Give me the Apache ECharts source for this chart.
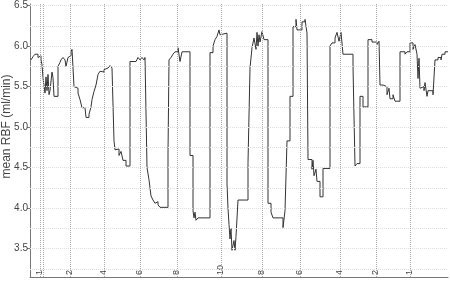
<!DOCTYPE html>
<html>
<head>
<meta charset="utf-8">
<script src="https://cdn.jsdelivr.net/npm/echarts@6/dist/echarts.min.js"></script>
<style>
  html, body { margin: 0; padding: 0; background: #fff; }
  #chart { width: 450px; height: 282px; }
</style>
</head>
<body>
<div id="chart"></div>
<script>
'use strict';

// time (arbitrary units along the recording) and mean RBF values
var times = [1, 3, 5, 8, 10, 11, 12, 13, 15, 16, 17, 18, 19, 20, 22, 23, 24, 28, 30, 31,
    33, 35, 36, 38, 40, 41, 42, 44, 46, 48, 50, 52, 55, 56, 59, 61, 62, 64, 66, 68,
    70, 72, 74, 76, 78, 80, 82, 83, 84, 85, 87, 89, 91, 93, 96, 100, 106, 108, 110, 112,
    114, 115, 117, 119, 120, 121, 123, 125, 127, 128, 130, 138, 139, 141, 143, 145, 148, 150, 152, 155,
    160, 163, 164, 165, 166, 168, 180, 183, 185, 187, 189, 190, 192, 197, 198, 199, 200, 201, 202, 204,
    205, 206, 208, 218, 220, 222, 224, 226, 227, 228, 229, 230, 232, 234, 238, 241, 243, 253, 255, 257,
    260, 263, 266, 267, 272, 275, 277, 278, 282, 283, 284, 286, 287, 290, 293, 300, 302, 305, 307, 309,
    311, 313, 323, 325, 327, 330, 333, 338, 342, 347, 349, 350, 353, 357, 359, 360, 363, 365, 370, 375,
    377, 380, 383, 385, 387, 388, 389, 390, 392, 394, 395, 397, 398, 403, 405, 408, 411, 412, 415, 418];

var rbf = [5.83, 5.87, 5.90, 5.86, 5.88, 5.83, 5.77, 5.61, 5.42, 5.62, 5.45, 5.65, 5.40, 5.45, 5.68, 5.61, 5.38, 5.75, 5.80, 5.83,
    5.86, 5.83, 5.75, 5.86, 5.88, 5.93, 5.96, 5.50, 5.48, 5.42, 5.34, 5.24, 5.22, 5.12, 5.16, 5.25, 5.34, 5.44, 5.52, 5.65,
    5.69, 5.68, 5.71, 5.73, 5.71, 5.76, 5.73, 5.71, 4.83, 4.72, 4.73, 4.65, 4.70, 4.59, 4.52, 5.81, 5.83, 5.86, 5.83, 5.86,
    5.83, 5.86, 4.50, 4.35, 4.25, 4.15, 4.10, 4.06, 4.08, 4.04, 4.01, 4.68, 5.83, 5.86, 5.90, 5.93, 5.98, 5.81, 5.93, 5.93,
    4.65, 3.97, 3.88, 3.95, 3.85, 3.88, 5.92, 6.00, 6.08, 6.12, 6.20, 6.14, 6.16, 4.30, 4.00, 3.80, 3.62, 3.75, 3.48, 3.60,
    3.48, 3.65, 4.10, 4.56, 5.73, 5.98, 6.10, 5.96, 6.17, 6.00, 6.14, 6.05, 6.18, 6.08, 4.06, 3.95, 3.88, 3.76, 3.97, 4.83,
    5.38, 6.24, 6.33, 6.20, 6.30, 6.33, 6.16, 4.60, 4.48, 4.59, 4.40, 4.48, 4.33, 4.14, 4.49, 6.00, 6.04, 6.10, 6.17, 6.06,
    6.17, 5.90, 5.75, 4.52, 4.55, 5.38, 5.25, 6.08, 6.05, 6.02, 6.06, 5.52, 5.50, 5.40, 5.48, 5.35, 5.40, 5.32, 5.93, 5.90,
    5.93, 6.04, 5.96, 6.02, 5.90, 5.60, 5.85, 5.48, 5.50, 5.45, 5.55, 5.38, 5.45, 5.40, 5.83, 5.86, 5.83, 5.90, 5.93, 5.93];

// dose markers along the time axis and their labels
var markerTimes = [10, 40, 74, 110, 147, 191, 232, 270, 310, 346, 380];
var markerLabels = ['1', '2', '4', '6', '8', '10', '8', '6', '4', '2', '1'];
var extraMarkers = [13];

var yTicks = [3.5, 4.0, 4.5, 5.0, 5.5, 6.0, 6.5];
var yGrid = [3.25, 3.5, 3.75, 4.0, 4.25, 4.5, 4.75, 5.0, 5.25, 5.5, 5.75, 6.0, 6.25, 6.5];

var points = times.map(function (t, i) {
    return [t, rbf[i]];
});

var vLines = markerTimes.concat(extraMarkers).map(function (t) {
    return {xAxis: t};
});
var hLines = yGrid.map(function (v) {
    return {yAxis: v};
});

var myChart = echarts.init(document.getElementById('chart'));

var option = {
    animation: false,
    textStyle: {fontFamily: 'Liberation Sans, Arial, sans-serif'},
    grid: {
        left: 30,
        right: 2,
        top: 4,
        bottom: 5,
        containLabel: false,
        outerBoundsMode: 'none'
    },
    xAxis: {
        type: 'value',
        min: 0,
        max: 418,
        axisLine: {lineStyle: {color: '#777', width: 1}},
        axisTick: {show: false},
        splitLine: {show: false},
        axisLabel: {
            customValues: markerTimes,
            inside: true,
            rotate: 90,
            margin: 2,
            fontSize: 9,
            color: '#444',
            formatter: function (v) {
                var i = markerTimes.indexOf(v);
                return i >= 0 ? markerLabels[i] : '';
            }
        }
    },
    yAxis: {
        type: 'value',
        min: 3.15,
        max: 6.52,
        name: 'mean RBF (ml/min)',
        nameLocation: 'middle',
        nameGap: 17,
        nameMoveOverlap: false,
        nameTextStyle: {fontSize: 12, color: '#444', padding: [0, 0, 0, 28]},
        axisLine: {show: true, lineStyle: {color: '#777', width: 1}},
        axisTick: {show: true, customValues: yTicks, length: 3, lineStyle: {color: '#777'}},
        splitLine: {show: false},
        axisLabel: {
            customValues: yTicks,
            margin: 2,
            fontSize: 10,
            color: '#444',
            formatter: function (v) {
                return v.toFixed(1);
            }
        }
    },
    series: [
        {
            type: 'line',
            name: 'grid-h',
            data: [],
            silent: true,
            z: 1,
            markLine: {
                silent: true,
                symbol: 'none',
                label: {show: false},
                lineStyle: {type: 'dotted', color: '#ddd', width: 1},
                data: hLines
            }
        },
        {
            type: 'line',
            name: 'grid-v',
            data: [],
            silent: true,
            z: 1,
            markLine: {
                silent: true,
                symbol: 'none',
                label: {show: false},
                lineStyle: {type: 'dotted', color: '#aaa', width: 1},
                data: vLines
            }
        },
        {
            type: 'line',
            name: 'mean RBF',
            step: 'end',
            showSymbol: false,
            z: 3,
            lineStyle: {color: '#333', width: 1},
            data: points
        }
    ]
};

myChart.setOption(option);
</script>
</body>
</html>
